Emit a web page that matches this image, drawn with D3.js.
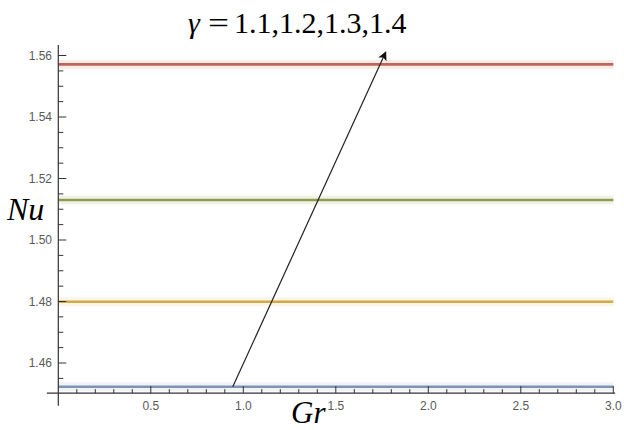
<!DOCTYPE html>
<html>
<head>
<meta charset="utf-8">
<script src="https://cdn.jsdelivr.net/npm/d3@7"></script>
<style>
  html, body { margin: 0; padding: 0; background: #fff; }
  svg { display: block; }
</style>
</head>
<body>
<svg id="chart" width="624" height="430"></svg>
<script>
// Nusselt number against Grashof number for four values of gamma
const gammaValues = [1.1, 1.2, 1.3, 1.4];
const grSamples = [0, 3];
const nuSeries = [
  [1.4523, 1.4523],
  [1.4799, 1.4799],
  [1.5130, 1.5130],
  [1.5571, 1.5571]
];
const seriesColors = ["#7f93b3", "#cfaa45", "#8e9c50", "#bf6552"];
const xMajorTicks = [0.5, 1.0, 1.5, 2.0, 2.5, 3.0];
const yMajorTicks = [1.46, 1.48, 1.50, 1.52, 1.54, 1.56];
// arrow across the curves, in data coordinates: [Gr, Nu]
const arrowFrom = [0.943, 1.4523];
const arrowTo = [1.770, 1.5611];

const svg = d3.select("#chart");

const x = d3.scaleLinear().domain([0, 3]).range([58.3, 613.3]);
const y = d3.scaleLinear().domain([1.46, 1.56]).range([363, 55.5]);

// plot-range padding around the data
const xExtent = [-0.062, 3.01];
const yExtent = [1.4461, 1.5634];
const yOrigin = 1.4502;

const defs = svg.append("defs");
defs.append("marker")
  .attr("id", "head")
  .attr("viewBox", "0 0 10 10")
  .attr("refX", 9).attr("refY", 5)
  .attr("markerWidth", 9).attr("markerHeight", 9)
  .attr("markerUnits", "userSpaceOnUse")
  .attr("orient", "auto")
  .append("path")
  .attr("d", "M0,0 L10,5 L0,10 L2.5,5 Z")
  .attr("fill", "#111");

// curves
const line = d3.line().x((d, i) => x(grSamples[i])).y(d => y(d));
const curves = svg.append("g");
nuSeries.forEach((vals, k) => {
  curves.append("path")
    .attr("d", line(vals))
    .attr("fill", "none")
    .attr("stroke", seriesColors[k])
    .attr("stroke-opacity", 0.12)
    .attr("stroke-width", 9);
  curves.append("path")
    .attr("d", line(vals))
    .attr("fill", "none")
    .attr("stroke", seriesColors[k])
    .attr("stroke-width", 2.6);
});

// axes
const axisColor = "#333";
const labelColor = "#5a5a5a";
const gAx = svg.append("g");

gAx.append("line")
  .attr("x1", x(xExtent[0])).attr("x2", x(xExtent[1]))
  .attr("y1", y(yOrigin)).attr("y2", y(yOrigin))
  .attr("stroke", axisColor).attr("stroke-width", 1.2);
gAx.append("line")
  .attr("x1", x(0)).attr("x2", x(0))
  .attr("y1", y(yExtent[0])).attr("y2", y(yExtent[1]))
  .attr("stroke", axisColor).attr("stroke-width", 1.2);

// x ticks (inward, pointing up)
const xMinor = d3.range(1, 31).map(i => i / 10).filter(v => Math.abs(v * 2 - Math.round(v * 2)) > 1e-6);
gAx.selectAll(".xminor").data(xMinor).join("line")
  .attr("x1", d => x(d)).attr("x2", d => x(d))
  .attr("y1", y(yOrigin)).attr("y2", y(yOrigin) - 4)
  .attr("stroke", axisColor).attr("stroke-width", 1);
gAx.selectAll(".xmajor").data(xMajorTicks).join("line")
  .attr("x1", d => x(d)).attr("x2", d => x(d))
  .attr("y1", y(yOrigin)).attr("y2", y(yOrigin) - 7)
  .attr("stroke", axisColor).attr("stroke-width", 1);
gAx.selectAll(".xlab").data(xMajorTicks).join("text")
  .attr("x", d => x(d)).attr("y", 410)
  .attr("text-anchor", "middle")
  .attr("font-family", "Liberation Sans, Arial, sans-serif")
  .attr("font-size", 12)
  .attr("fill", labelColor)
  .text(d => d3.format(".1f")(d));

// y ticks (inward, pointing right)
const yMinor = d3.range(0, 24).map(i => 1.455 + i * 0.005)
  .filter(v => v <= 1.5601 && Math.abs(v * 50 - Math.round(v * 50)) > 1e-6);
gAx.selectAll(".yminor").data(yMinor).join("line")
  .attr("x1", x(0)).attr("x2", x(0) + 5)
  .attr("y1", d => y(d)).attr("y2", d => y(d))
  .attr("stroke", axisColor).attr("stroke-width", 1);
gAx.selectAll(".ymajor").data(yMajorTicks).join("line")
  .attr("x1", x(0)).attr("x2", x(0) + 8)
  .attr("y1", d => y(d)).attr("y2", d => y(d))
  .attr("stroke", axisColor).attr("stroke-width", 1);
gAx.selectAll(".ylab").data(yMajorTicks).join("text")
  .attr("x", 52).attr("y", d => y(d) + 4)
  .attr("text-anchor", "end")
  .attr("font-family", "Liberation Sans, Arial, sans-serif")
  .attr("font-size", 12)
  .attr("fill", labelColor)
  .text(d => d3.format(".2f")(d));

// arrow showing increasing gamma
svg.append("line")
  .attr("x1", x(arrowFrom[0])).attr("y1", y(arrowFrom[1]))
  .attr("x2", x(arrowTo[0])).attr("y2", y(arrowTo[1]))
  .attr("stroke", "#222").attr("stroke-width", 1.2)
  .attr("marker-end", "url(#head)");

// annotations
const serif = "Liberation Serif, Times New Roman, serif";
const titleY = 33;
svg.append("text")
  .attr("x", 188).attr("y", titleY)
  .attr("font-family", serif).attr("font-style", "italic")
  .attr("font-size", 30)
  .text("γ");
svg.append("text")
  .attr("x", 208).attr("y", titleY)
  .attr("font-family", serif)
  .attr("font-size", 30)
  .attr("textLength", 21).attr("lengthAdjust", "spacingAndGlyphs")
  .text("=");
svg.append("text")
  .attr("x", 234).attr("y", titleY)
  .attr("font-family", serif)
  .attr("font-size", 30)
  .text(gammaValues.map(d => d3.format(".1f")(d)).join(","));

svg.append("text")
  .attr("x", 7).attr("y", 220)
  .attr("font-family", serif)
  .attr("font-style", "italic")
  .attr("font-size", 32)
  .text("Nu");

svg.append("text")
  .attr("x", 291).attr("y", 423)
  .attr("font-family", serif)
  .attr("font-style", "italic")
  .attr("font-size", 31)
  .text("Gr");
</script>
</body>
</html>
